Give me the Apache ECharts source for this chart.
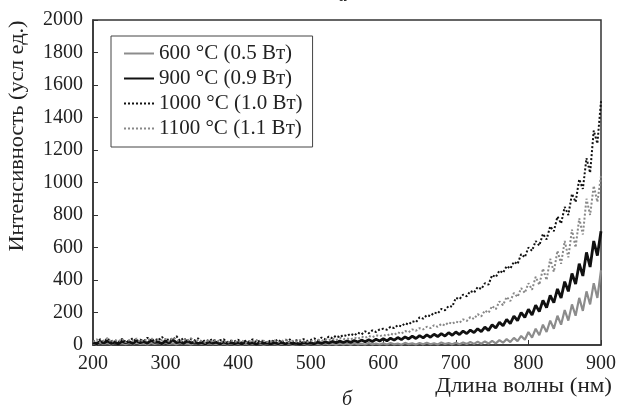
<!DOCTYPE html>
<html>
<head>
<meta charset="utf-8">
<script src="https://cdn.jsdelivr.net/npm/echarts@6/dist/echarts.min.js"></script>
<style>
  html, body { margin: 0; padding: 0; background: #fff; }
  #chart { width: 619px; height: 408px; }
</style>
</head>
<body>
<div id="chart"></div>
<script>
// Emission spectra, intensity sampled every 5 nm from 200 to 900 nm
const wavelengthStart = 200;
const wavelengthStep = 5;

const seriesNames = ['600 °C (0.5 Вт)', '900 °C (0.9 Вт)', '1000 °C (1.0 Вт)', '1100 °C (1.1 Вт)'];

const xTicks = [200, 300, 400, 500, 600, 700, 800, 900];
const yTicks = [0, 200, 400, 600, 800, 1000, 1200, 1400, 1600, 1800, 2000];

const intensity600 = [
  10, 4, 14, 6, 12, 3, 15, 8, 11, 5,
  13, 4, 16, 7, 10, 3, 14, 6, 12, 5,
  15, 6, 11, 4, 13, 7, 10, 3, 12, 6,
  9, 3, 11, 5, 8, 2, 10, 4, 9, 3,
  8, 2, 10, 4, 7, 3, 9, 2, 8, 4,
  7, 2, 9, 3, 8, 1, 7, 3, 9, 2,
  8, 3, 7, 2, 9, 3, 8, 2, 10, 3,
  9, 2, 11, 4, 8, 3, 12, 4, 9, 3,
  10, 3, 12, 4, 9, 2, 13, 5, 10, 3,
  12, 4, 14, 5, 11, 3, 15, 6, 12, 4,
  14, 5, 16, 6, 18, 7, 20, 8, 22, 9,
  26, 10, 30, 14, 36, 18, 44, 24, 56, 32,
  80, 45, 100, 60, 125, 80, 150, 100, 180, 125,
  215, 150, 250, 180, 290, 210, 330, 250, 380, 290,
  460
];

const intensity900 = [
  15, 8, 22, 12, 26, 10, 18, 6, 24, 14,
  20, 9, 28, 14, 22, 11, 30, 16, 19, 8,
  25, 12, 32, 15, 21, 10, 27, 13, 18, 9,
  16, 7, 20, 11, 17, 6, 19, 10, 14, 8,
  15, 6, 18, 9, 14, 5, 16, 10, 13, 7,
  14, 8, 17, 6, 15, 9, 12, 5, 16, 10,
  13, 7, 18, 10, 20, 12, 22, 14, 24, 15,
  25, 16, 28, 18, 30, 20, 32, 22, 35, 25,
  38, 26, 42, 30, 46, 33, 50, 37, 54, 40,
  58, 44, 62, 48, 66, 52, 70, 55, 76, 60,
  80, 64, 86, 70, 92, 76, 100, 82, 110, 90,
  125, 105, 140, 118, 158, 132, 178, 150, 200, 170,
  220, 185, 245, 205, 275, 230, 305, 260, 345, 290,
  390, 330, 440, 375, 500, 425, 570, 480, 640, 550,
  700
];

const intensity1000 = [
  28, 12, 35, 18, 40, 22, 30, 15, 38, 20,
  26, 42, 18, 33, 24, 45, 20, 38, 27, 50,
  22, 40, 30, 55, 25, 44, 19, 36, 28, 41,
  17, 32, 24, 38, 15, 29, 35, 18, 27, 22,
  33, 14, 26, 20, 35, 16, 28, 24, 12, 30,
  21, 34, 15, 27, 38, 18, 29, 22, 36, 25,
  31, 40, 28, 46, 35, 52, 41, 58, 47, 62,
  55, 70, 58, 76, 65, 84, 72, 90, 80, 96,
  100, 94, 112, 104, 122, 115, 134, 126, 146, 140,
  170, 162, 184, 178, 200, 194, 222, 214, 240, 236,
  290, 282, 310, 300, 332, 322, 356, 344, 380, 372,
  430, 418, 458, 444, 486, 470, 512, 498, 560, 540,
  600, 580, 640, 612, 684, 650, 730, 700, 790, 748,
  850, 800, 930, 880, 1020, 960, 1150, 1060, 1320, 1240,
  1500
];

const intensity1100 = [
  20, 35, 14, 28, 42, 18, 32, 22, 38, 16,
  30, 24, 40, 18, 34, 26, 44, 20, 36, 28,
  38, 22, 46, 30, 20, 36, 26, 42, 18, 32,
  24, 14, 30, 20, 34, 16, 26, 12, 28, 22,
  18, 30, 12, 24, 20, 32, 14, 26, 18, 22,
  28, 16, 24, 34, 14, 26, 20, 30, 22, 18,
  26, 20, 32, 24, 36, 28, 40, 30, 44, 36,
  40, 34, 46, 38, 52, 44, 56, 48, 60, 54,
  62, 56, 70, 62, 78, 70, 86, 78, 96, 88,
  104, 96, 112, 104, 122, 112, 130, 120, 140, 130,
  145, 136, 158, 148, 172, 160, 190, 176, 212, 198,
  240, 220, 268, 245, 296, 270, 320, 296, 350, 320,
  380, 340, 420, 370, 470, 400, 530, 450, 580, 500,
  640, 540, 710, 600, 780, 680, 900, 800, 980, 880,
  1040
];

function toPairs(values) {
  return values.map((v, i) => [wavelengthStart + i * wavelengthStep, v]);
}

const serif = 'Liberation Serif, Times New Roman, serif';
const ink = '#222';

const chart = echarts.init(document.getElementById('chart'), null, { renderer: 'canvas' });

chart.setOption({
  animation: false,
  backgroundColor: '#fff',
  textStyle: { fontFamily: serif },
  grid: {
    left: 93, right: 18, top: 20, bottom: 63,
    show: true, borderColor: '#333', borderWidth: 1.5, backgroundColor: 'transparent'
  },
  legend: {
    orient: 'vertical',
    left: 111, top: 36,
    padding: [7, 10, 8, 12],
    itemGap: 4,
    itemWidth: 30,
    itemHeight: 14,
    borderColor: '#444',
    borderWidth: 1,
    borderRadius: 0,
    backgroundColor: '#fff',
    itemStyle: { opacity: 0 },
    textStyle: { fontFamily: serif, fontSize: 21, color: ink },
    data: seriesNames
  },
  xAxis: {
    type: 'value',
    min: xTicks[0], max: xTicks[xTicks.length - 1], interval: 100,
    axisLine: { lineStyle: { color: '#333', width: 1.5 } },
    axisTick: { inside: true, length: 5, lineStyle: { color: '#333' } },
    axisLabel: { fontFamily: serif, fontSize: 20, color: ink, margin: 9, formatter: v => String(v) },
    splitLine: { show: false }
  },
  yAxis: {
    type: 'value',
    min: yTicks[0], max: yTicks[yTicks.length - 1], interval: 200,
    axisLine: { show: true, lineStyle: { color: '#333', width: 1.5 } },
    axisTick: { show: true, inside: true, length: 5, lineStyle: { color: '#333' } },
    axisLabel: { fontFamily: serif, fontSize: 20, color: ink, margin: 10, formatter: v => String(v) },
    splitLine: { show: false }
  },
  graphic: [
    {
      type: 'text', x: 18, y: 136, rotation: Math.PI / 2, scaleX: 1.12,
      style: { text: 'Интенсивность (усл ед.)', font: '20px ' + serif, fill: ink, align: 'center', verticalAlign: 'middle' }
    },
    {
      type: 'text', x: 612, y: 387, scaleX: 1.15,
      style: { text: 'Длина волны (нм)', font: '20px ' + serif, fill: ink, align: 'right', verticalAlign: 'middle' }
    },
    {
      type: 'text', x: 343, y: 6,
      style: { text: 'а', font: 'italic 20px ' + serif, fill: ink, align: 'center', verticalAlign: 'bottom' }
    },
    {
      type: 'text', x: 347, y: 410,
      style: { text: 'б', font: 'italic 20px ' + serif, fill: ink, align: 'center', verticalAlign: 'bottom' }
    }
  ],
  series: [
    {
      name: seriesNames[0], type: 'line', symbol: 'none', data: toPairs(intensity600),
      lineStyle: { color: '#8c8c8c', width: 2.2 }, itemStyle: { color: '#8c8c8c' }, z: 2
    },
    {
      name: seriesNames[1], type: 'line', symbol: 'none', data: toPairs(intensity900),
      lineStyle: { color: '#111', width: 2.8 }, itemStyle: { color: '#111' }, z: 3
    },
    {
      name: seriesNames[2], type: 'line', symbol: 'none', data: toPairs(intensity1000),
      lineStyle: { color: '#111', width: 2, type: 'dotted' }, itemStyle: { color: '#111' }, z: 4
    },
    {
      name: seriesNames[3], type: 'line', symbol: 'none', data: toPairs(intensity1100),
      lineStyle: { color: '#888', width: 2, type: 'dotted' }, itemStyle: { color: '#888' }, z: 4
    }
  ]
});
</script>
</body>
</html>
